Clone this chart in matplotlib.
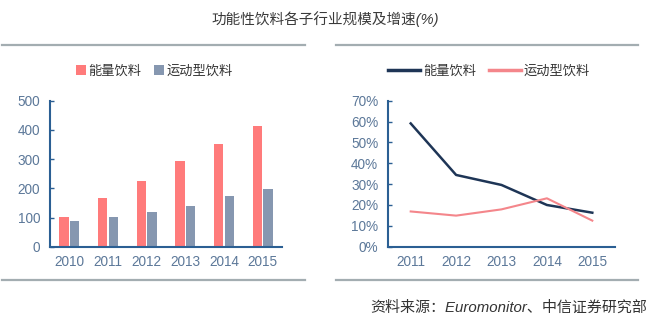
import numpy as np
import matplotlib
matplotlib.use("Agg")
import matplotlib.pyplot as plt
from matplotlib.lines import Line2D
from matplotlib.ticker import MultipleLocator, PercentFormatter

plt.rcParams['font.family'] = ['Liberation Sans', 'Noto Sans CJK SC', 'DejaVu Sans']

# --- data ---
years_bar = ['2010', '2011', '2012', '2013', '2014', '2015']
energy_size = [103, 168, 226, 293, 352, 413]
sport_size = [88, 103, 119, 140, 173, 197]

years_line = ['2011', '2012', '2013', '2014', '2015']
energy_growth = [59.1, 34.4, 29.6, 20.0, 16.3]
sport_growth = [16.9, 14.9, 17.9, 23.2, 12.5]

title = '功能性饮料各子行业规模及增速(%)'
source = '资料来源：Euromonitor、中信证券研究部'
series_names = ['能量饮料', '运动型饮料']

# --- styles ---
RED = '#FF7B7B'
SLATE = '#8697B0'
NAVY = '#1E3556'
PINK = '#F4868B'
SPINE = '#2B5F93'
TICK = '#5C7899'
RULE = '#A3ADB1'

W, H = 653, 335
fig = plt.figure(figsize=(W / 100, H / 100), dpi=100)

def fx(px):
    return px / W

def fy(py):
    return 1 - py / H

# title and rules
fig.text(fx(325), fy(19), title, ha='center', va='center', fontsize=10.5,
         color='#3A3A3A', style='italic')
for x0, x1 in [(2, 305), (336, 638)]:
    for yy in (45, 280):
        fig.add_artist(Line2D([fx(x0), fx(x1)], [fy(yy), fy(yy)],
                              color=RULE, lw=1.6, transform=fig.transFigure))
fig.text(fx(647), fy(308), source, ha='right', va='center', fontsize=10.8,
         color='#333333', style='italic')

def style_axes(ax):
    for s in ['top', 'right']:
        ax.spines[s].set_visible(False)
    for s in ['left', 'bottom']:
        ax.spines[s].set_color(SPINE)
        ax.spines[s].set_linewidth(1.5)
    ax.tick_params(axis='y', colors=TICK, labelsize=9.8, direction='in',
                   length=3, width=1, pad=7)
    ax.tick_params(axis='y', color=SPINE)
    ax.tick_params(axis='x', colors=TICK, labelsize=9.8, length=0, pad=6)

# --- left: bar chart ---
ax1 = fig.add_axes([fx(50), fy(246.7), fx(282 - 50), (246.7 - 100.7) / H])
x = np.arange(len(years_bar))
bw = 0.24
ax1.bar(x - bw / 2 - 0.02, energy_size, bw, color=RED, label=series_names[0])
ax1.bar(x + bw / 2 + 0.02, sport_size, bw, color=SLATE, label=series_names[1])
ax1.set_xlim(-0.5, len(years_bar) - 0.5)
ax1.set_ylim(0, 500)
ax1.yaxis.set_major_locator(MultipleLocator(100))
ax1.set_xticks(x)
ax1.set_xticklabels(years_bar)
style_axes(ax1)
leg1 = ax1.legend(loc='center', bbox_to_anchor=(0.45, 1.2), ncol=2, frameon=False,
                  fontsize=9.5, handlelength=0.7, handleheight=0.7,
                  handletextpad=0.2, columnspacing=1.0)
for t in leg1.get_texts():
    t.set_color('#333333')

# --- right: growth lines ---
ax2 = fig.add_axes([fx(388), fy(246.7), fx(615 - 388), (246.7 - 100.7) / H])
xl = np.arange(len(years_line))
ax2.plot(xl, energy_growth, color=NAVY, lw=1.8, label=series_names[0])
ax2.plot(xl, sport_growth, color=PINK, lw=1.5, label=series_names[1])
ax2.set_xlim(-0.5, len(years_line) - 0.5)
ax2.set_ylim(0, 70)
ax2.yaxis.set_major_locator(MultipleLocator(10))
ax2.yaxis.set_major_formatter(PercentFormatter(decimals=0))
ax2.set_xticks(xl)
ax2.set_xticklabels(years_line)
style_axes(ax2)
leg2 = ax2.legend(loc='center', bbox_to_anchor=(0.445, 1.2), ncol=2, frameon=False,
                  fontsize=9.5, handlelength=2.4, handletextpad=0.2,
                  columnspacing=1.0)
for t in leg2.get_texts():
    t.set_color('#333333')
for h in leg2.get_lines():
    h.set_linewidth(2.5)

fig.savefig('out.png', dpi=100)
